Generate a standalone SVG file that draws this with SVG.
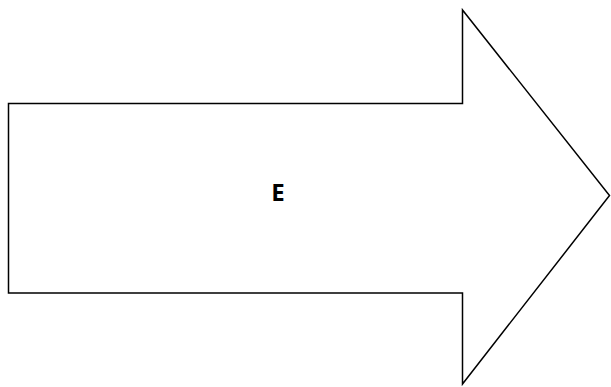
<svg xmlns="http://www.w3.org/2000/svg" width="611" height="387" viewBox="0 0 611 387">
<style>
.shape{fill:#fff;stroke:#000;stroke-width:1.5;stroke-linejoin:miter}
.lbl{font-family:"Open Sans","Noto Sans","DejaVu Sans",sans-serif;font-weight:bold;font-size:24px;fill:#000;text-anchor:middle}
</style>
<rect width="611" height="387" fill="#fff"/>
<g id="arrow">
<polygon class="shape" points="8.5,103.5 462.5,103.5 462.5,10 609.5,195.5 462.5,384 462.5,293 8.5,293"/>
<text class="lbl" x="278" y="201">E</text>
</g>
</svg>
